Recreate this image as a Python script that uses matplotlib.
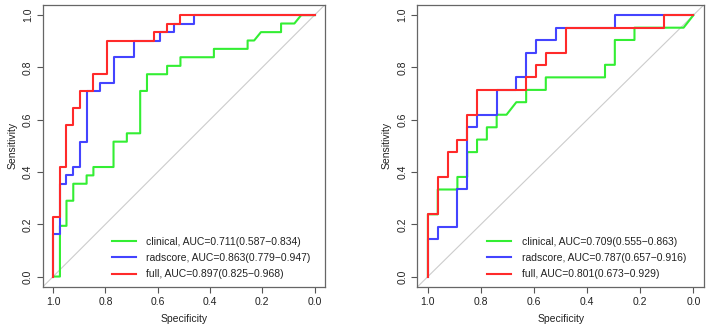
import matplotlib
matplotlib.use('Agg')
import matplotlib.pyplot as plt

plt.rcParams['font.family'] = ['Liberation Sans', 'DejaVu Sans']

# Curvas ROC (especificidade, sensibilidade)
# Painel esquerdo
esq_clin_spec = [1.0, 0.974, 0.974, 0.949, 0.949, 0.923, 0.923, 0.872, 0.872, 0.846, 0.846, 0.769, 0.769,
                 0.718, 0.718, 0.667, 0.667, 0.641, 0.641, 0.564, 0.564, 0.513, 0.513, 0.385, 0.385,
                 0.256, 0.256, 0.231, 0.205, 0.128, 0.128, 0.077, 0.051, 0.0]
esq_clin_sens = [0.0, 0.0, 0.194, 0.194, 0.290, 0.290, 0.355, 0.355, 0.387, 0.387, 0.419, 0.419, 0.516,
                 0.516, 0.548, 0.548, 0.710, 0.710, 0.774, 0.774, 0.806, 0.806, 0.839, 0.839, 0.871,
                 0.871, 0.903, 0.903, 0.935, 0.935, 0.968, 0.968, 1.0, 1.0]

esq_rad_spec = [1.0, 1.0, 0.974, 0.974, 0.949, 0.949, 0.923, 0.923, 0.897, 0.897, 0.872, 0.872, 0.821,
                0.821, 0.769, 0.769, 0.692, 0.692, 0.590, 0.590, 0.538, 0.538, 0.462, 0.462, 0.0]
esq_rad_sens = [0.0, 0.161, 0.161, 0.355, 0.355, 0.387, 0.387, 0.419, 0.419, 0.516, 0.516, 0.710, 0.710,
                0.742, 0.742, 0.839, 0.839, 0.903, 0.903, 0.935, 0.935, 0.968, 0.968, 1.0, 1.0]

esq_full_spec = [1.0, 1.0, 0.974, 0.974, 0.949, 0.949, 0.923, 0.923, 0.897, 0.897, 0.846, 0.846, 0.795,
                 0.795, 0.615, 0.615, 0.564, 0.564, 0.513, 0.513, 0.0]
esq_full_sens = [0.0, 0.226, 0.226, 0.419, 0.419, 0.581, 0.581, 0.645, 0.645, 0.710, 0.710, 0.774, 0.774,
                 0.903, 0.903, 0.935, 0.935, 0.968, 0.968, 1.0, 1.0]

# Painel direito
dir_clin_spec = [1.0, 1.0, 0.963, 0.963, 0.889, 0.889, 0.852, 0.852, 0.815, 0.815, 0.778, 0.778, 0.741,
                 0.741, 0.704, 0.667, 0.630, 0.630, 0.556, 0.556, 0.333, 0.333, 0.296, 0.296, 0.222,
                 0.222, 0.037, 0.0]
dir_clin_sens = [0.0, 0.238, 0.238, 0.333, 0.333, 0.381, 0.381, 0.476, 0.476, 0.524, 0.524, 0.571, 0.571,
                 0.619, 0.619, 0.667, 0.667, 0.714, 0.714, 0.762, 0.762, 0.810, 0.810, 0.905, 0.905,
                 0.952, 0.952, 1.0]

dir_rad_spec = [1.0, 1.0, 0.963, 0.963, 0.889, 0.889, 0.852, 0.852, 0.815, 0.815, 0.741, 0.741, 0.667,
                0.667, 0.630, 0.630, 0.593, 0.593, 0.519, 0.519, 0.296, 0.296, 0.0]
dir_rad_sens = [0.0, 0.143, 0.143, 0.190, 0.190, 0.333, 0.333, 0.571, 0.571, 0.619, 0.619, 0.714, 0.714,
                0.762, 0.762, 0.857, 0.857, 0.905, 0.905, 0.952, 0.952, 1.0, 1.0]

dir_full_spec = [1.0, 1.0, 0.963, 0.963, 0.926, 0.926, 0.889, 0.889, 0.852, 0.852, 0.815, 0.815, 0.630,
                 0.630, 0.593, 0.593, 0.556, 0.556, 0.481, 0.481, 0.111, 0.111, 0.0]
dir_full_sens = [0.0, 0.238, 0.238, 0.381, 0.381, 0.476, 0.476, 0.524, 0.524, 0.619, 0.619, 0.714, 0.714,
                 0.762, 0.762, 0.810, 0.810, 0.857, 0.857, 0.952, 0.952, 1.0, 1.0]

esq_legenda = ['clinical, AUC=0.711(0.587\u22120.834)',
               'radscore, AUC=0.863(0.779\u22120.947)',
               'full, AUC=0.897(0.825\u22120.968)']
dir_legenda = ['clinical, AUC=0.709(0.555\u22120.863)',
               'radscore, AUC=0.787(0.657\u22120.916)',
               'full, AUC=0.801(0.673\u22120.929)']

ticks = [0.0, 0.2, 0.4, 0.6, 0.8, 1.0]
cores = ['#33ee33', '#4444ff', '#ff2a2a']
texto = '#222222'

fig = plt.figure(figsize=(7.08, 3.35), dpi=100)


def painel(ax, curvas, legenda, xleg):
    ax.axline((1, 0), (0, 1), color='#cccccc', lw=0.8, zorder=1)
    linhas = []
    for (x, y), c in zip(curvas, cores):
        l, = ax.plot(x, y, color=c, lw=1.5, zorder=2)
        linhas.append(l)
    ax.set_xlim(1.04, -0.04)
    ax.set_ylim(-0.04, 1.04)
    ax.set_xticks(ticks)
    ax.set_yticks(ticks)
    ax.set_xticklabels(['%.1f' % t for t in ticks])
    ax.set_yticklabels(['%.1f' % t for t in ticks], rotation=90, va='center')
    ax.tick_params(length=4, width=0.8, color='#555555', labelsize=7.5, labelcolor=texto, pad=3)
    for s in ax.spines.values():
        s.set_color('#666666')
        s.set_linewidth(0.9)
    ax.set_xlabel('Specificity', fontsize=7.5, color=texto, labelpad=5)
    ax.set_ylabel('Sensitivity', fontsize=7.5, color=texto, labelpad=4)
    ax.legend(linhas, legenda, loc='lower left', bbox_to_anchor=(xleg, 0.027), frameon=False,
              borderpad=0, borderaxespad=0, fontsize=7.5, handlelength=2.3, handletextpad=1.0,
              labelspacing=0.6, labelcolor=texto)


ax1 = fig.add_axes([0.0603, 0.1433, 0.3987, 0.8427])
painel(ax1, [(esq_clin_spec, esq_clin_sens), (esq_rad_spec, esq_rad_sens), (esq_full_spec, esq_full_sens)],
       esq_legenda, 0.245)

ax2 = fig.add_axes([0.5894, 0.1433, 0.405, 0.8427])
painel(ax2, [(dir_clin_spec, dir_clin_sens), (dir_rad_spec, dir_rad_sens), (dir_full_spec, dir_full_sens)],
       dir_legenda, 0.244)

fig.savefig('out.png', dpi=100)
